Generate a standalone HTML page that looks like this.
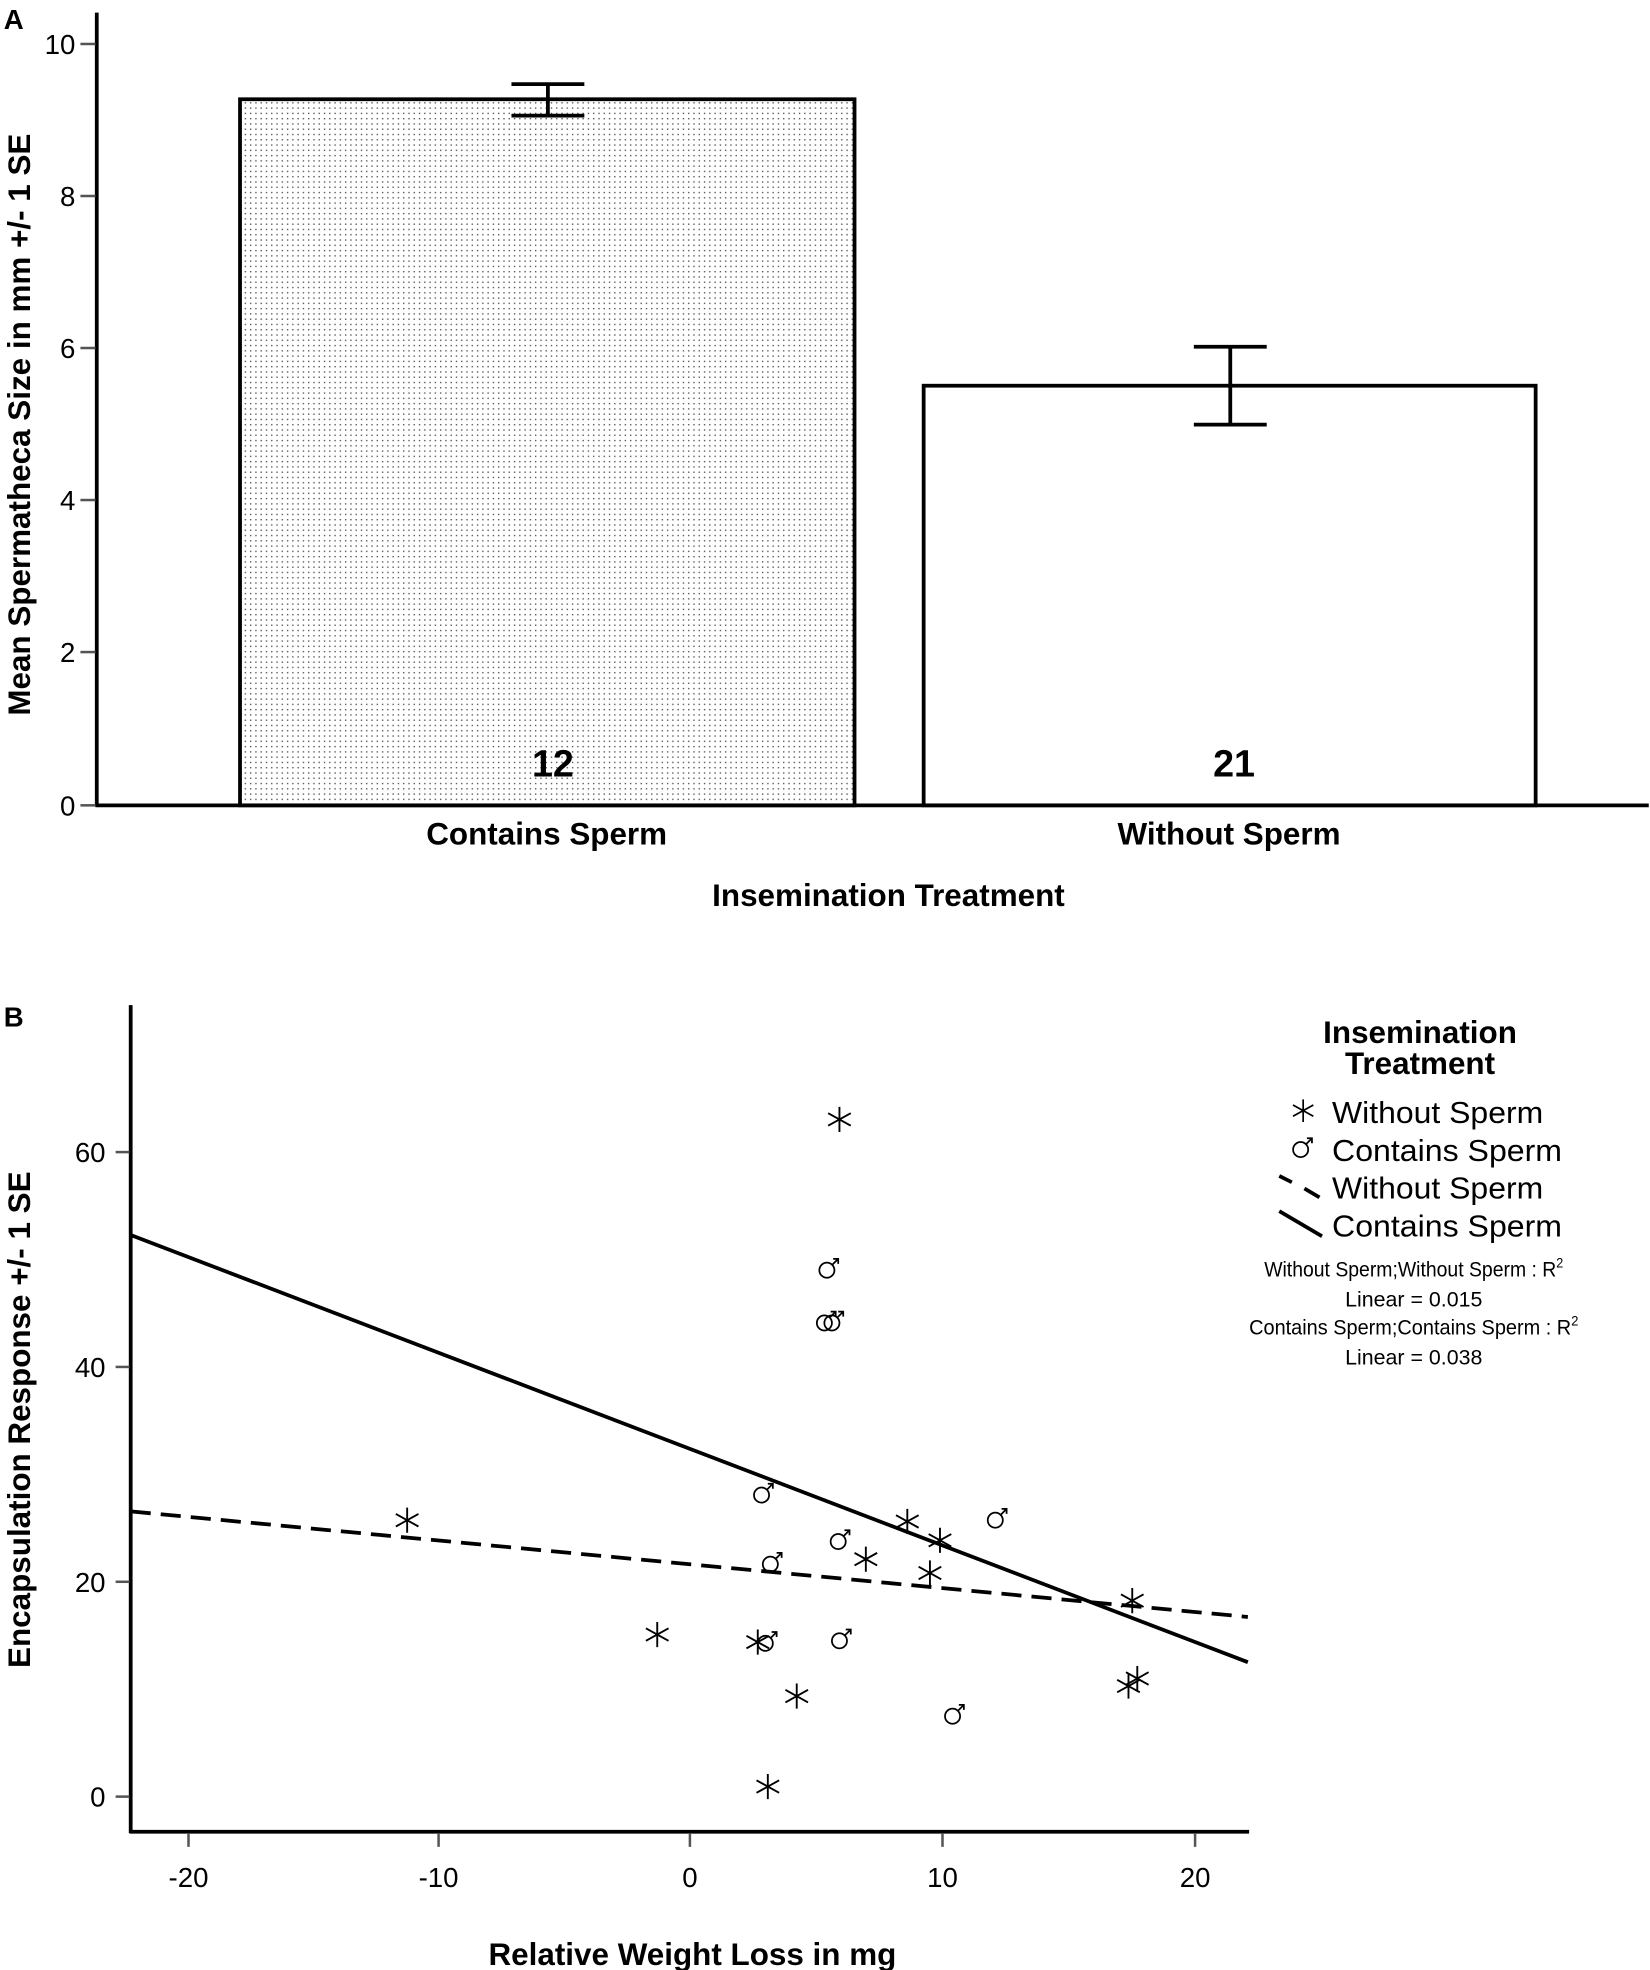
<!DOCTYPE html>
<html><head><meta charset="utf-8"><style>html,body{margin:0;padding:0;background:#fff}svg{display:block}</style></head>
<body>
<svg width="1650" height="1970" viewBox="0 0 1313 1568" preserveAspectRatio="none" xmlns="http://www.w3.org/2000/svg" font-family="Liberation Sans, sans-serif">
<defs>
<pattern id="dots" width="4.2" height="4.2" patternUnits="userSpaceOnUse">
<rect x="1.5" y="1.5" width="1.1" height="1.1" fill="#555"/>
</pattern>
</defs>
<rect width="1313" height="1568" fill="#fff"/>
<!-- Panel A -->
<text x="3" y="23" font-size="22" font-weight="bold">A</text>
<g stroke="#000" stroke-width="3" fill="none">
<line x1="77" y1="10" x2="77" y2="642"/>
<line x1="76" y1="641" x2="1312" y2="641"/>
</g>
<g stroke="#555" stroke-width="2">
<line x1="64" y1="35" x2="76" y2="35"/><line x1="64" y1="156" x2="76" y2="156"/>
<line x1="64" y1="277" x2="76" y2="277"/><line x1="64" y1="398" x2="76" y2="398"/>
<line x1="64" y1="519" x2="76" y2="519"/><line x1="64" y1="641" x2="76" y2="641"/>
</g>
<g font-size="22" text-anchor="end">
<text x="60" y="43">10</text><text x="60" y="164">8</text><text x="60" y="285">6</text>
<text x="60" y="406">4</text><text x="60" y="527">2</text><text x="60" y="649">0</text>
</g>
<rect x="191" y="79" width="489" height="562" fill="url(#dots)" stroke="#000" stroke-width="3"/>
<rect x="735" y="307" width="487" height="334" fill="#fff" stroke="#000" stroke-width="3"/>
<g stroke="#000" stroke-width="3">
<line x1="436" y1="67" x2="436" y2="92"/><line x1="407" y1="67" x2="465" y2="67"/><line x1="407" y1="92" x2="465" y2="92"/>
<line x1="979" y1="276" x2="979" y2="338"/><line x1="950" y1="276" x2="1008" y2="276"/><line x1="950" y1="338" x2="1008" y2="338"/>
</g>
<g font-size="30" font-weight="bold" text-anchor="middle">
<text x="440" y="618">12</text><text x="982" y="618">21</text>
</g>
<g font-size="25" font-weight="bold" text-anchor="middle">
<text x="435" y="672">Contains Sperm</text>
<text x="978" y="672">Without Sperm</text>
<text x="707" y="721">Insemination Treatment</text>
<text transform="translate(24,338) rotate(-90)">Mean Spermatheca Size in mm +/- 1 SE</text>
</g>
<!-- Panel B -->
<text x="3" y="817" font-size="22" font-weight="bold">B</text>
<g stroke="#000" stroke-width="3" fill="none">
<line x1="104" y1="800" x2="104" y2="1459"/>
<line x1="103" y1="1458" x2="994" y2="1458"/>
</g>
<g stroke="#555" stroke-width="2">
<line x1="92" y1="917" x2="103" y2="917"/><line x1="92" y1="1088" x2="103" y2="1088"/>
<line x1="92" y1="1259" x2="103" y2="1259"/><line x1="92" y1="1430" x2="103" y2="1430"/>
<line x1="150" y1="1459" x2="150" y2="1470"/><line x1="349" y1="1459" x2="349" y2="1470"/>
<line x1="549" y1="1459" x2="549" y2="1470"/><line x1="750" y1="1459" x2="750" y2="1470"/>
<line x1="951" y1="1459" x2="951" y2="1470"/>
</g>
<g font-size="22" text-anchor="end">
<text x="84" y="925">60</text><text x="84" y="1096">40</text><text x="84" y="1267">20</text><text x="84" y="1438">0</text>
</g>
<g font-size="22" text-anchor="middle">
<text x="150" y="1502">-20</text><text x="349" y="1502">-10</text><text x="549" y="1502">0</text>
<text x="750" y="1502">10</text><text x="951" y="1502">20</text>
</g>
<line x1="104" y1="983" x2="993" y2="1323" stroke="#000" stroke-width="3"/>
<line x1="104" y1="1203" x2="993" y2="1287" stroke="#000" stroke-width="3" stroke-dasharray="16,8"/>
<g stroke="#000" stroke-width="1.5" fill="none">
<path d="M0,-10 L0,10 M-9,-5 L9,5 M-9,5 L9,-5" transform="translate(668,891)"/>
<path d="M0,-10 L0,10 M-9,-5 L9,5 M-9,5 L9,-5" transform="translate(324,1210)"/>
<path d="M0,-10 L0,10 M-9,-5 L9,5 M-9,5 L9,-5" transform="translate(722,1211)"/>
<path d="M0,-10 L0,10 M-9,-5 L9,5 M-9,5 L9,-5" transform="translate(748,1226)"/>
<path d="M0,-10 L0,10 M-9,-5 L9,5 M-9,5 L9,-5" transform="translate(689,1241)"/>
<path d="M0,-10 L0,10 M-9,-5 L9,5 M-9,5 L9,-5" transform="translate(740,1252)"/>
<path d="M0,-10 L0,10 M-9,-5 L9,5 M-9,5 L9,-5" transform="translate(523,1301)"/>
<path d="M0,-10 L0,10 M-9,-5 L9,5 M-9,5 L9,-5" transform="translate(603,1307)"/>
<path d="M0,-10 L0,10 M-9,-5 L9,5 M-9,5 L9,-5" transform="translate(901,1274)"/>
<path d="M0,-10 L0,10 M-9,-5 L9,5 M-9,5 L9,-5" transform="translate(634,1350)"/>
<path d="M0,-10 L0,10 M-9,-5 L9,5 M-9,5 L9,-5" transform="translate(898,1342)"/>
<path d="M0,-10 L0,10 M-9,-5 L9,5 M-9,5 L9,-5" transform="translate(905,1336)"/>
<path d="M0,-10 L0,10 M-9,-5 L9,5 M-9,5 L9,-5" transform="translate(611,1422)"/>
<path d="M0,-10 L0,10 M-9,-5 L9,5 M-9,5 L9,-5" transform="translate(1037,884) scale(0.9)"/>
</g>
<g stroke="#000" stroke-width="1.4" fill="none">
<g transform="translate(658,1011)"><circle r="6"/><path d="M4,-4 L9,-9 M5,-9 L9,-9 L9,-5"/></g>
<g transform="translate(656,1053)"><circle r="6"/><path d="M4,-4 L9,-9 M5,-9 L9,-9 L9,-5"/></g>
<g transform="translate(662,1053)"><circle r="6"/><path d="M4,-4 L9,-9 M5,-9 L9,-9 L9,-5"/></g>
<g transform="translate(606,1190)"><circle r="6"/><path d="M4,-4 L9,-9 M5,-9 L9,-9 L9,-5"/></g>
<g transform="translate(667,1227)"><circle r="6"/><path d="M4,-4 L9,-9 M5,-9 L9,-9 L9,-5"/></g>
<g transform="translate(792,1210)"><circle r="6"/><path d="M4,-4 L9,-9 M5,-9 L9,-9 L9,-5"/></g>
<g transform="translate(613,1245)"><circle r="6"/><path d="M4,-4 L9,-9 M5,-9 L9,-9 L9,-5"/></g>
<g transform="translate(609,1308)"><circle r="6"/><path d="M4,-4 L9,-9 M5,-9 L9,-9 L9,-5"/></g>
<g transform="translate(668,1306)"><circle r="6"/><path d="M4,-4 L9,-9 M5,-9 L9,-9 L9,-5"/></g>
<g transform="translate(758,1366)"><circle r="6"/><path d="M4,-4 L9,-9 M5,-9 L9,-9 L9,-5"/></g>
<g transform="translate(1035,915)"><circle r="6"/><path d="M4,-4 L9,-9 M5,-9 L9,-9 L9,-5"/></g>
</g>
<line x1="1018" y1="936" x2="1028" y2="941" stroke="#000" stroke-width="3"/>
<line x1="1038" y1="946" x2="1050" y2="953" stroke="#000" stroke-width="3"/>
<line x1="1018" y1="964" x2="1052" y2="984" stroke="#000" stroke-width="3"/>
<g font-size="25" font-weight="bold" text-anchor="middle">
<text x="1130" y="830">Insemination</text>
<text x="1130" y="855">Treatment</text>
</g>
<g font-size="24">
<text x="1060" y="894" textLength="168" lengthAdjust="spacingAndGlyphs">Without Sperm</text>
<text x="1060" y="924" textLength="183" lengthAdjust="spacingAndGlyphs">Contains Sperm</text>
<text x="1060" y="954" textLength="168" lengthAdjust="spacingAndGlyphs">Without Sperm</text>
<text x="1060" y="984" textLength="183" lengthAdjust="spacingAndGlyphs">Contains Sperm</text>
</g>
<g font-size="17" text-anchor="middle">
<text x="1125" y="1016" textLength="238" lengthAdjust="spacingAndGlyphs">Without Sperm;Without Sperm : R<tspan font-size="11" dy="-7">2</tspan></text>
<text x="1125" y="1040">Linear = 0.015</text>
<text x="1125" y="1062" textLength="262" lengthAdjust="spacingAndGlyphs">Contains Sperm;Contains Sperm : R<tspan font-size="11" dy="-7">2</tspan></text>
<text x="1125" y="1086">Linear = 0.038</text>
</g>
<g font-size="25" font-weight="bold" text-anchor="middle">
<text x="551" y="1564">Relative Weight Loss in mg</text>
<text transform="translate(24,1130) rotate(-90)">Encapsulation Response +/- 1 SE</text>
</g>
</svg>
</body></html>
